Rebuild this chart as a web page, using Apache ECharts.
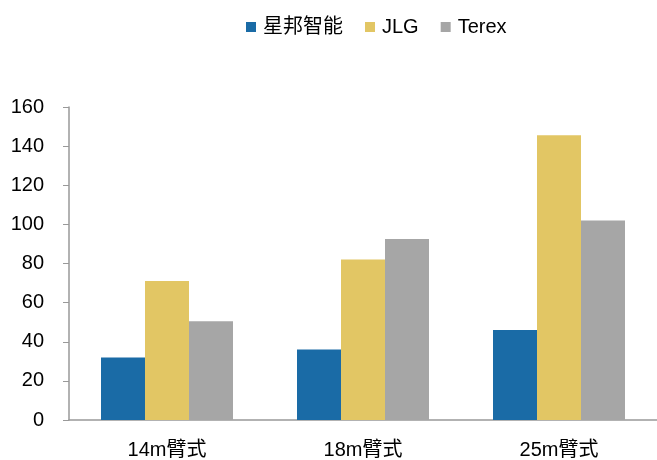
<!DOCTYPE html>
<html>
<head>
<meta charset="utf-8">
<script src="https://cdn.jsdelivr.net/npm/echarts@6/dist/echarts.min.js"></script>
<style>
  html, body { margin: 0; padding: 0; background: #fff; }
  #chart { width: 657px; height: 460px; }
</style>
</head>
<body>
<div id="chart"></div>
<script>
const categories = ["14m臂式", "18m臂式", "25m臂式"];
const xingbang = [32, 36, 46];
const jlg = [71, 82, 145.5];
const terex = [50.5, 92.5, 102];

const chart = echarts.init(document.getElementById("chart"));

const fontFamily = "'Liberation Sans', Arial, 'Noto Sans CJK SC', sans-serif";

const makeSeries = (name, data, color) => ({
  name,
  type: "bar",
  data,
  barWidth: 44,
  barGap: "0%",
  itemStyle: { color },
});

chart.setOption({
  animation: false,
  textStyle: { fontFamily },
  legend: {
    top: 17,
    left: 246,
    padding: 0,
    itemWidth: 10,
    itemHeight: 10,
    itemGap: 22,
    icon: "rect",
    textStyle: { fontSize: 20, color: "#000", fontFamily, padding: [0, 0, 0, 2] },
    data: ["星邦智能", "JLG", "Terex"],
  },
  grid: {
    left: 69,
    top: 107,
    width: 590,
    height: 314,
  },
  xAxis: {
    type: "category",
    data: categories,
    axisLine: { lineStyle: { color: "#999", width: 1.5 } },
    axisTick: { show: false },
    axisLabel: { fontSize: 20, color: "#000", margin: 20, fontFamily },
  },
  yAxis: {
    type: "value",
    min: 0,
    max: 160,
    interval: 20,
    axisLine: { show: true, lineStyle: { color: "#999", width: 1.5 } },
    axisTick: { show: true, length: 6, lineStyle: { color: "#999" } },
    splitLine: { show: false },
    axisLabel: { fontSize: 20, color: "#000", margin: 25, fontFamily },
  },
  series: [
    makeSeries("星邦智能", xingbang, "#1a6ba6"),
    makeSeries("JLG", jlg, "#e2c664"),
    makeSeries("Terex", terex, "#a6a6a6"),
  ],
});
</script>
</body>
</html>
